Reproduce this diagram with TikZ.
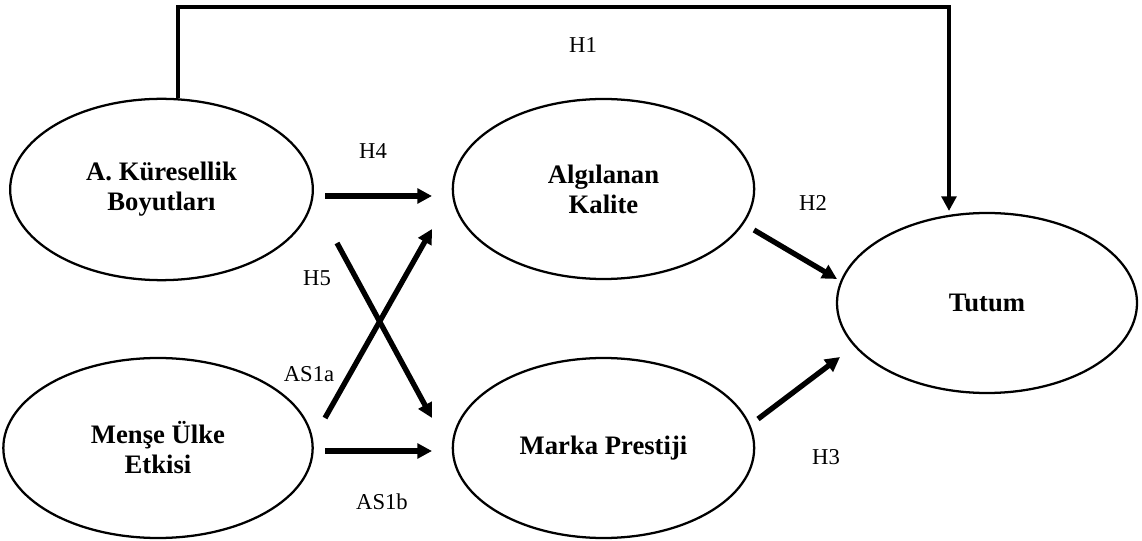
\documentclass[tikz,border=0pt]{standalone}
\usepackage{fontspec}
\setmainfont{Liberation Serif}
\usetikzlibrary{arrows.meta,shapes.geometric,calc}

\begin{document}
\begin{tikzpicture}[x=0.75pt,y=-0.75pt,
  construct/.style={draw,ellipse,line width=1.7pt,inner sep=0pt,align=center,
    minimum width=226pt,minimum height=135pt,
    font=\fontsize{20}{22.5}\selectfont\bfseries},
  link/.style={line width=4pt,-{Triangle[length=11pt,width=11pt]}},
  hyp/.style={font=\fontsize{17}{20}\selectfont,inner sep=0pt}]

\useasboundingbox (0,0) rectangle (1142,541);

% latent constructs
\node[construct,minimum width=227pt,minimum height=136pt] (kb) at (161.5,189.5) {A. Küresellik\\Boyutları};
\node[construct,minimum width=232pt] (mu) at (158,448) {Menşe Ülke\\Etkisi};
\node[construct] (ak) at (603.5,189) {Algılanan\\Kalite};
\node[construct] (mp) at (603.5,448) {Marka Prestiji};
\node[construct,minimum width=225pt] (tu) at (987,303) {Tutum};

% free ends of the path arrows
\coordinate (h4s) at (325,196);  \coordinate (h4e) at (432,196);
\coordinate (h5s) at (337,243);  \coordinate (h5e) at (432,418);
\coordinate (a1s) at (325,418);  \coordinate (a1e) at (432,229);
\coordinate (b1s) at (325,451);  \coordinate (b1e) at (432,451);
\coordinate (h2s) at (754,230);  \coordinate (h2e) at (837,279);
\coordinate (h3s) at (758,419);  \coordinate (h3e) at (840,357);
\coordinate (h1s) at ($(kb.north)+(16.5,0)$);
\coordinate (h1c) at (949,7);
\coordinate (h1e) at (949,211);

% direct effect over the top
\draw[line width=3pt,line join=miter,-{Triangle[length=11pt,width=11pt]}]
  (h1s) |- (h1c) -- (h1e);

% path arrows
\draw[link] (h4s) -- (h4e);
\draw[link] (h5s) -- (h5e);
\draw[link] (a1s) -- (a1e);
\draw[link] (b1s) -- (b1e);
\draw[link] (h2s) -- (h2e);
\draw[link] (h3s) -- (h3e);

% hypothesis labels
\node[hyp] (l1) at (583,45) {H1};
\node[hyp] (l4) at (373,151) {H4};
\node[hyp] (l5) at (317,278) {H5};
\node[hyp] (la) at (309,374) {AS1a};
\node[hyp] (lb) at (382,502) {AS1b};
\node[hyp] (l2) at (813,203) {H2};
\node[hyp] (l3) at (826,457) {H3};
\end{tikzpicture}
\end{document}
